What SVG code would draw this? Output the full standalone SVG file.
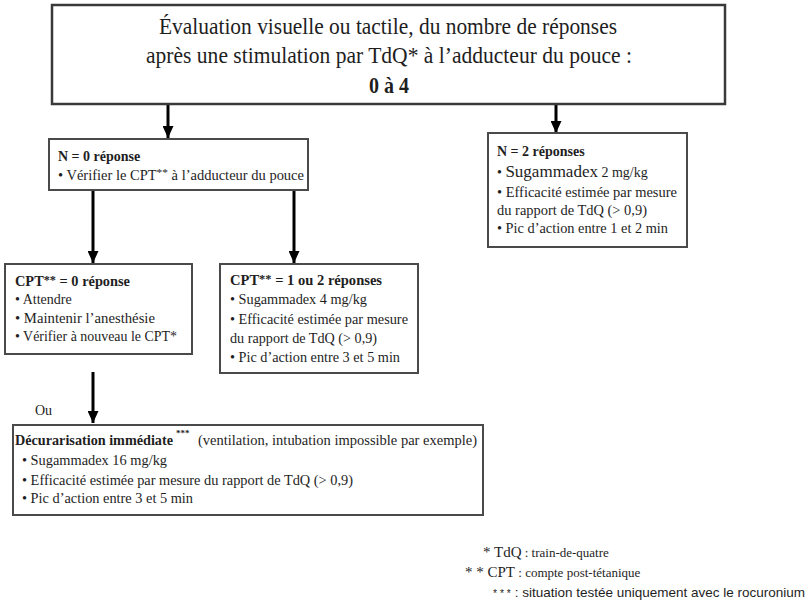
<svg xmlns="http://www.w3.org/2000/svg" width="810" height="605" viewBox="0 0 810 605">
<style>
  .box { fill: #ffffff; stroke: #4a4a4a; stroke-width: 2; }
  .main { fill: #ffffff; stroke: #3a3a3a; stroke-width: 2.5; }
  text { font-family: "Liberation Serif", "Times New Roman", serif; fill: #1e1e1e; }
  .t { font-size: 14px; }
  .b { font-size: 14px; font-weight: bold; }
  .title { font-size: 24px; }
  .sup { font-size: 9px; }
  .conn { stroke: #000; stroke-width: 3; fill: none; marker-end: url(#ah); }
  .sans { font-family: "Liberation Sans", Arial, sans-serif; }
</style>
<defs>
  <marker id="ah" markerUnits="userSpaceOnUse" markerWidth="12" markerHeight="11" refX="12" refY="5.5" orient="auto" viewBox="0 0 12 11">
    <path d="M0,0 L12,5.5 L0,11 Z" fill="#000"/>
  </marker>
</defs>
<rect width="810" height="605" fill="#ffffff"/>

<g id="connectors">
  <path class="conn" d="M168,105 V138"/>
  <path class="conn" d="M556,105 V133"/>
  <path class="conn" d="M93,191 V263"/>
  <path class="conn" d="M294,191 V263"/>
  <path class="conn" d="M93,372 V423"/>
</g>

<g id="main">
  <rect class="main" x="52" y="5" width="673" height="99"/>
  <text class="title" x="388" y="34" text-anchor="middle" textLength="458" lengthAdjust="spacingAndGlyphs">Évaluation visuelle ou tactile, du nombre de réponses</text>
  <text class="title" x="389" y="63" text-anchor="middle" textLength="486" lengthAdjust="spacingAndGlyphs">après une stimulation par TdQ* à l’adducteur du pouce :</text>
  <text class="title" x="389" y="93" text-anchor="middle" font-weight="bold" textLength="40" lengthAdjust="spacingAndGlyphs">0 à 4</text>
</g>

<g id="n0">
  <rect class="box" x="49" y="139" width="259" height="51"/>
  <text class="b" x="58" y="161">N = 0 réponse</text>
  <text class="t" x="58" y="180" textLength="246" lengthAdjust="spacingAndGlyphs">• Vérifier le CPT<tspan font-size="11" dy="-4">**</tspan><tspan dy="4"> à l’adducteur du pouce</tspan></text>
</g>

<g id="n2">
  <rect class="box" x="488" y="133" width="199" height="114"/>
  <text class="b" x="497" y="156">N = 2 réponses</text>
  <text class="t" x="497" y="177">• <tspan font-size="17">Sugammadex</tspan> 2 mg/kg</text>
  <text class="t" x="497" y="197" textLength="180" lengthAdjust="spacingAndGlyphs">• Efficacité estimée par mesure</text>
  <text class="t" x="497" y="215" textLength="150" lengthAdjust="spacingAndGlyphs">du rapport de TdQ (&gt; 0,9)</text>
  <text class="t" x="497" y="233" textLength="171" lengthAdjust="spacingAndGlyphs">• Pic d’action entre 1 et 2 min</text>
</g>

<g id="cpt0">
  <rect class="box" x="5" y="264" width="187" height="90"/>
  <text class="b" x="15" y="286" font-size="15" textLength="115" lengthAdjust="spacingAndGlyphs">CPT<tspan font-size="12" dy="-2">**</tspan><tspan dy="2"> = 0 réponse</tspan></text>
  <text class="t" x="15" y="304">• Attendre</text>
  <text class="t" x="15" y="323" textLength="140" lengthAdjust="spacingAndGlyphs">• Maintenir l’anesthésie</text>
  <text class="t" x="15" y="341" textLength="162" lengthAdjust="spacingAndGlyphs">• Vérifier à nouveau le CPT*</text>
</g>

<g id="cpt12">
  <rect class="box" x="220" y="264" width="198" height="109"/>
  <text class="b" x="230" y="285" font-size="15" textLength="152" lengthAdjust="spacingAndGlyphs">CPT<tspan font-size="12" dy="-2">**</tspan><tspan dy="2"> = 1 ou 2 réponses</tspan></text>
  <text class="t" x="230" y="304" textLength="137" lengthAdjust="spacingAndGlyphs">• Sugammadex 4 mg/kg</text>
  <text class="t" x="230" y="324" textLength="178" lengthAdjust="spacingAndGlyphs">• Efficacité estimée par mesure</text>
  <text class="t" x="230" y="343" textLength="147" lengthAdjust="spacingAndGlyphs">du rapport de TdQ (&gt; 0,9)</text>
  <text class="t" x="230" y="362" textLength="170" lengthAdjust="spacingAndGlyphs">• Pic d’action entre 3 et 5 min</text>
</g>

<g id="ou">
  <text class="t" x="35" y="415">Ou</text>
</g>

<g id="decur">
  <rect class="box" x="13" y="425" width="470" height="90"/>
  <text class="b" x="15" y="445" font-size="15" textLength="158" lengthAdjust="spacingAndGlyphs">Décurarisation immédiate</text>
  <text class="sup" x="176" y="436" font-weight="bold">***</text>
  <text class="t" x="198" y="445" textLength="279" lengthAdjust="spacingAndGlyphs">(ventilation, intubation impossible par exemple)</text>
  <text class="t" x="22" y="465" textLength="145" lengthAdjust="spacingAndGlyphs">• Sugammadex 16 mg/kg</text>
  <text class="t" x="22" y="485" textLength="331" lengthAdjust="spacingAndGlyphs">• Efficacité estimée par mesure du rapport de TdQ (&gt; 0,9)</text>
  <text class="t" x="22" y="503" textLength="171" lengthAdjust="spacingAndGlyphs">• Pic d’action entre 3 et 5 min</text>
</g>

<g id="footnotes">
  <text x="483" y="557"><tspan font-size="15">* TdQ</tspan><tspan font-size="13"> : train-de-quatre</tspan></text>
  <text x="465" y="577"><tspan font-size="15">* * CPT</tspan><tspan font-size="13"> : compte post-tétanique</tspan></text>
  <text class="sans" x="493" y="597" font-size="13" textLength="312" lengthAdjust="spacingAndGlyphs"><tspan font-size="10">* * *</tspan> : situation testée uniquement avec le rocuronium</text>
</g>
</svg>
